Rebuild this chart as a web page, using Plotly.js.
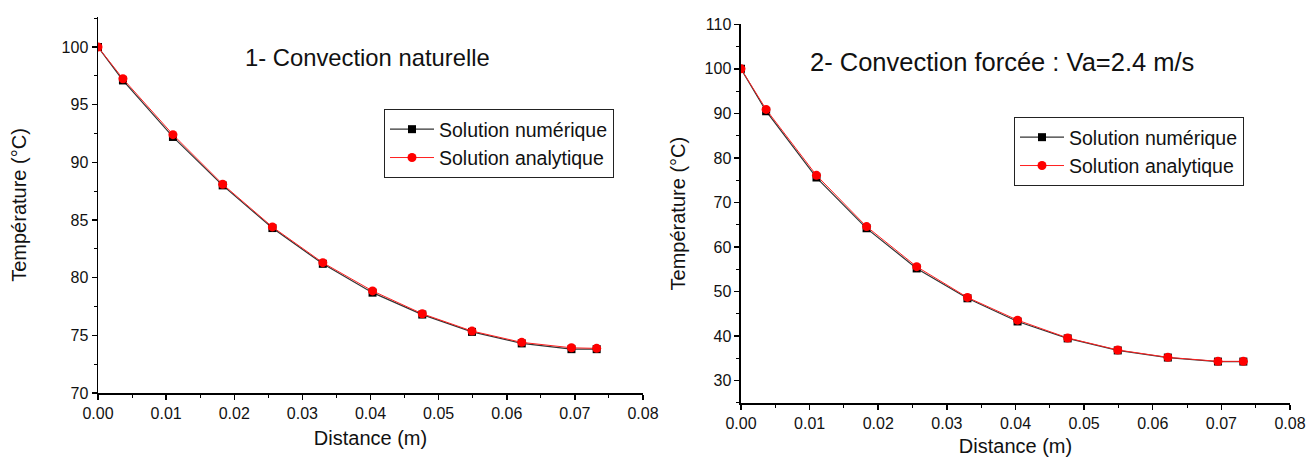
<!DOCTYPE html>
<html>
<head>
<meta charset="utf-8">
<script src="https://cdn.plot.ly/plotly-3.0.1.min.js"></script>
<style>html,body{margin:0;padding:0;background:#fff;}#chart{width:1306px;height:457px;}</style>
</head>
<body>
<div id="chart"></div>
<script>
// Distance (m) – shared nodes
const distance = [0, 0.00366, 0.011, 0.0183, 0.0256, 0.033, 0.0403, 0.0476, 0.0549, 0.0622, 0.0695, 0.0732];

// 1- Convection naturelle
const natNumerique  = [100, 97.1, 92.2, 88.0, 84.3, 81.2, 78.7, 76.8, 75.3, 74.3, 73.8, 73.8];
const natAnalytique = [100, 97.25, 92.4, 88.1, 84.4, 81.3, 78.85, 76.87, 75.37, 74.39, 73.92, 73.87];

// 2- Convection forcée : Va=2.4 m/s
const forNumerique  = [100, 90.5, 75.6, 64.2, 55.2, 48.5, 43.3, 39.5, 36.8, 35.2, 34.3, 34.3];
const forAnalytique = [100, 90.9, 76.1, 64.6, 55.6, 48.7, 43.6, 39.6, 36.9, 35.25, 34.35, 34.35];

const seriesNames = ["Solution numérique", "Solution analytique"];
const titles = ["1- Convection naturelle", "2- Convection forcée : Va=2.4 m/s"];

const FONT = "Arial, 'Liberation Sans', sans-serif";
const TXT = "#111";

function numTrace(x, y, xa, ya, lg) {
  return {x: x, y: y, xaxis: xa, yaxis: ya, legend: lg, name: seriesNames[0], type: "scatter", mode: "lines+markers",
    line: {color: "#333", width: 1.2}, marker: {symbol: "square", size: 8, color: "#000"}};
}
function anaTrace(x, y, xa, ya, lg) {
  return {x: x, y: y, xaxis: xa, yaxis: ya, legend: lg, name: seriesNames[1], type: "scatter", mode: "lines+markers",
    line: {color: "#ff2020", width: 1}, marker: {symbol: "circle", size: 9, color: "#ff0000"}};
}

const data = [
  numTrace(distance, natNumerique, "x", "y", "legend"),
  anaTrace(distance, natAnalytique, "x", "y", "legend"),
  numTrace(distance, forNumerique, "x2", "y2", "legend2"),
  anaTrace(distance, forAnalytique, "x2", "y2", "legend2")
];

function xAxis(domain, anchor) {
  return {domain: domain, anchor: anchor, range: [0, 0.08], dtick: 0.01, tick0: 0, tickformat: ".2f",
    showgrid: false, zeroline: false, showline: true, linecolor: "#000", linewidth: 1.5,
    ticks: "outside", ticklen: 5, tickwidth: 1.5, tickcolor: "#000",
    minor: {dtick: 0.005, tick0: 0, ticklen: 3, tickwidth: 1, tickcolor: "#000", ticks: "outside"},
    tickfont: {family: FONT, size: 16, color: TXT},
    title: {text: "Distance (m)", font: {family: FONT, size: 20, color: TXT}, standoff: 10}};
}
function yAxis(domain, anchor, range, dtick, minor, standoff) {
  return {domain: domain, anchor: anchor, range: range, dtick: dtick, tick0: 0,
    showgrid: false, zeroline: false, showline: true, linecolor: "#000", linewidth: 1.5,
    ticks: "outside", ticklen: 5, tickwidth: 1.5, tickcolor: "#000",
    minor: {dtick: minor, tick0: 0, ticklen: 3, tickwidth: 1, tickcolor: "#000", ticks: "outside"},
    tickfont: {family: FONT, size: 16, color: TXT},
    title: {text: "Température (°C)", font: {family: FONT, size: 20, color: TXT}, standoff: standoff}};
}

const legendBase = {bordercolor: "#222", borderwidth: 1, bgcolor: "#fff",
  font: {family: FONT, size: 19.5, color: TXT}, xanchor: "left", yanchor: "top",
  itemwidth: 44, tracegroupgap: 0};

const layout = {
  width: 1306, height: 457,
  margin: {l: 0, r: 0, t: 0, b: 0},
  paper_bgcolor: "#fff", plot_bgcolor: "#fff",
  showlegend: true,
  xaxis: xAxis([0.07504, 0.49234], "y"),
  yaxis: yAxis([0.14004, 0.9628], "x", [70, 102.6], 5, 2.5, 29),
  xaxis2: xAxis([0.56738, 0.98775], "y2"),
  yaxis2: yAxis([0.11816, 0.94683], "x2", [25, 110], 10, 5, 13),
  legend: Object.assign({x: 384 / 1306, y: 1 - 109 / 457}, legendBase),
  legend2: Object.assign({x: 1014 / 1306, y: 1 - 117 / 457}, legendBase),
  annotations: [
    {text: titles[0], xref: "paper", yref: "paper", x: 367 / 1306, y: 1 - 57 / 457, xanchor: "center", yanchor: "middle",
      showarrow: false, font: {family: FONT, size: 23.8, color: TXT}},
    {text: titles[1], xref: "paper", yref: "paper", x: 1002 / 1306, y: 1 - 62 / 457, xanchor: "center", yanchor: "middle",
      showarrow: false, font: {family: FONT, size: 25.5, color: TXT}}
  ]
};

Plotly.newPlot("chart", data, layout, {displayModeBar: false, staticPlot: true});
</script>
</body>
</html>
